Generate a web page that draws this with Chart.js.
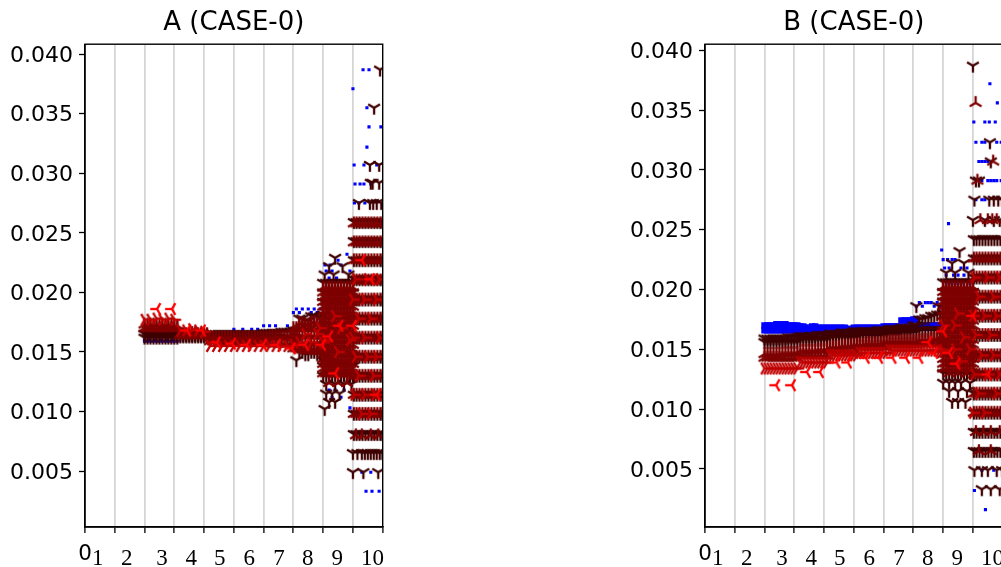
<!DOCTYPE html>
<html>
<head>
<meta charset="utf-8">
<script src="https://cdn.jsdelivr.net/npm/chart.js@4"></script>
<style>
html, body { margin: 0; background: #fff; overflow: hidden; width: 1001px; height: 567px; }
canvas { position: absolute; top: 0; }
#chart_a { left: 0; }
#chart_b { left: 620px; }
</style>
</head>
<body>
<canvas id="chart_a" width="500" height="567"></canvas>
<canvas id="chart_b" width="500" height="567"></canvas>
<script>
const tickLabels = ['1', '2', '3', '4', '5', '6', '7', '8', '9', '10'];
const tickLabelPos = [0.43, 1.40, 2.59, 3.57, 4.53, 5.52, 6.52, 7.48, 8.47, 9.66];

// x of the columns in the slow part of the cloud
const xCore = [2.0,2.2,2.4,2.6,2.8,3.0,3.2,3.4,3.6,3.8,4.0,4.2,4.4,4.6,4.8,5.0,5.2,5.4,5.6,5.8,6.0,6.2,6.4,6.6,6.8,7.0,7.2,7.4,7.6,7.8,8.0];
const xCoreMid = [2.1,2.3,2.5,2.7,2.9,3.1,3.3,3.5,3.7,3.9,4.1,4.3,4.5,4.7,4.9,5.1,5.3,5.5,5.7,5.9,6.1,6.3,6.5,6.7,6.9,7.1,7.3,7.5,7.7,7.9,8.0];
const xStep7 = [7.0,7.1,7.2,7.3,7.4,7.5,7.6,7.7,7.8,7.9,8.0];
const xBlob = [8.0,8.1,8.2,8.3,8.4,8.5,8.6,8.7,8.8,8.9,9.0];
const xDense = [9.03,9.12,9.22,9.32,9.42,9.52,9.62,9.72,9.82,9.92,9.99];

// panel A, one y per xCore entry
const aDarkHigh = [.0165,.0165,.0165,.0165,.0165,.0165,.0164,.0164,.0164,.0164,.0164,.0165,.0165,.0165,.0165,.0165,.0165,.0165,.0165,.0165,.0166,.0166,.0166,.0167,.0167,.0168,.0178,.0176,.0180,.0179,.0181];
const aDarkLow = [.0162,.0162,.0162,.0162,.0162,.0162,.0163,.0163,.0163,.0163,.0163,.0163,.0163,.0163,.0163,.0162,.0162,.0162,.0162,.0162,.0162,.0162,.0162,.0161,.0161,.0158,.0150,.0148,.0150,.0148,.0149];
const aMaroonHigh = [.0173,.0173,.0173,.0173,.0173,.0172,.0165,.0165,.0166,.0165,.0165,.0162,.0162,.0162,.0162,.0162,.0162,.0162,.0162,.0162,.0162,.0163,.0163,.0163,.0163,.0166,.0174,.0173,.0175,.0174,.0176];
const aMaroonLow = [.0170,.0170,.0170,.0170,.0170,.0170,.0164,.0164,.0164,.0164,.0164,.0159,.0159,.0159,.0159,.0159,.0158,.0158,.0158,.0158,.0158,.0157,.0157,.0157,.0157,.0156,.0152,.0151,.0152,.0151,.0151];
const aMedValues = [.0177,.0177,.0178,.0177,.0178,.0177,.0168,.0168,.0169,.0168,.0167,.0155,.0155,.0155,.0155,.0155,.0155,.0155,.0155,.0155,.0155,.0155,.0155,.0155,.0155,.0156,.0158,.0165,.0158,.0165,.0158];

// panel A rows, [y, [x, ...]]
const aBlueRows = [
  [.0387,[9.34,9.54]],[.0371,[9.0]],[.0355,[9.47]],[.0339,[9.54,9.94]],[.0322,[9.47]],[.0307,[9.04,9.37,9.8]],[.0291,[9.07,9.24,9.37,9.6]],[.0275,[9.05,9.2,9.4]],
  [.0232,[8.8]],[.0227,[8.5]],[.0223,[8.06,8.23,8.6]],[.0218,[8.1,8.3,8.9]],[.0212,[8.2,8.45]],
  [.0186,[7.1,7.3,7.5,7.7,7.9]],[.0183,[7.0,7.2,7.6,7.8]],[.0172,[6.0,6.2,6.4,6.8]],[.0169,[5.0,5.3,5.6,5.8]],
  [.0159,[2.0,2.1,2.2,2.3,2.4,2.5,2.6,2.7,2.8,2.9,3.0,3.1]],[.0160,[2.0,2.15,2.35,2.55,2.75,2.95]],
  [.0118,[8.2,8.4,8.7]],[.0112,[8.3,8.6]],[.0103,[8.9]],[.0049,[9.3,9.6]],[.0033,[9.44,9.64,9.88]]
];
const aDarkRows = [
  [.0387,[9.91]],[.0355,[9.71]],[.0307,[9.57,9.88]],[.0292,[9.6,9.66,9.88]],[.0275,[9.2,9.57,9.68,9.8,9.95]],[.0259,xDense],[.0243,xDense],[.0227,xDense],[.0211,xDense],[.0194,xDense],[.0178,xDense],[.0162,xDense],[.0146,xDense],[.0130,xDense],[.0114,xDense],[.0098,xDense],
  [.0229,[8.4]],[.0222,[8.2,8.65]],[.0215,[8.05,8.35,8.85]],[.0208,xBlob],[.0200,xBlob],[.0192,xBlob],
  [.0143,[7.1,8.0,8.2]],[.0138,xBlob],[.0130,xBlob],[.0123,[8.1,8.4,8.7,8.95]],[.0115,[8.1,8.3,8.55]],[.0108,[8.2,8.4]],[.0102,[8.05]],
  [.0081,xDense],[.0065,[9.0,9.15,9.3,9.4,9.5,9.6,9.7,9.8,9.9,9.99]],[.0049,[9.0,9.35,9.85]]
];
const aMaroonRows = [
  [.0258,xDense],[.0242,xDense],[.0227,xDense],[.0210,xDense],[.0194,xDense],[.0178,xDense],[.0162,xDense],[.0146,xDense],[.0130,xDense],[.0114,xDense],[.0098,xDense],[.0080,[9.1,9.3,9.6,9.85]],
  [.0204,xBlob],[.0200,xBlob],[.0196,xBlob],[.0192,xBlob],[.0188,xBlob],[.0184,xBlob],[.0180,xBlob],[.0176,xBlob],[.0172,xBlob],[.0168,xBlob],[.0164,xBlob],[.0160,xBlob],[.0156,xBlob],[.0152,xBlob],[.0148,xBlob],[.0144,xBlob],[.0140,xBlob],[.0136,xBlob],[.0132,xBlob],[.0124,[8.2,8.5,8.8]],
  [.0170,xStep7],[.0164,xStep7],[.0158,xStep7],[.0153,xStep7]
];
const aMedRows = [
  [.0211,[9.1,9.5,9.9]],[.0194,[9.0,9.4,9.8]],[.0178,[9.2,9.6]],[.0162,[9.0,9.4,9.9]],[.0146,[9.1,9.5,9.8]],[.0130,[9.2,9.7]],[.0114,[9.05,9.4,9.75]],[.0098,[9.3,9.6]],
  [.0180,[8.4]],[.0170,[7.9,8.6]],[.0160,[8.1,8.9]],[.0150,[8.5]]
];
const aBrightRows = [
  [.0186,[2.42,2.92]],[.0168,[3.43,3.93]],[.0158,[4.43]],[.0157,[4.94]],[.0156,[5.44,5.98,6.45,7.39,7.96]],[.0153,[6.95]],
  [.0172,[8.55,9.0]],[.0163,[8.2]],[.0132,[8.4]],[.0227,[9.3]],[.0211,[9.6]],[.0114,[9.8]]
];

// panel B, one y per xCore entry
const bBlueHigh = [.0170,.0170,.0171,.0171,.0170,.0170,.0169,.0168,.0169,.0168,.0168,.0168,.0168,.0168,.0167,.0168,.0168,.0168,.0168,.0168,.0169,.0169,.0169,.0174,.0174,.0175,.0170,.0170,.0170,.0170,.0170];
const bBlueLow = [.0166,.0166,.0166,.0166,.0166,.0166,.0165,.0165,.0165,.0165,.0164,.0164,.0164,.0164,.0164,.0164,.0164,.0164,.0164,.0164,.0165,.0165,.0165,.0168,.0168,.0168,.0168,.0168,.0168,.0168,.0168];
const bDarkHigh = [.0159,.0159,.0159,.0159,.0160,.0160,.0161,.0161,.0161,.0162,.0162,.0163,.0163,.0164,.0164,.0165,.0165,.0165,.0165,.0166,.0166,.0167,.0167,.0168,.0168,.0170,.0175,.0176,.0178,.0179,.0180];
const bDarkLow = [.0156,.0156,.0156,.0156,.0156,.0156,.0158,.0158,.0158,.0158,.0158,.0160,.0160,.0160,.0160,.0160,.0162,.0162,.0162,.0162,.0162,.0164,.0164,.0164,.0164,.0164,.0166,.0166,.0166,.0166,.0166];
const bMaroonHigh = [.0146,.0146,.0146,.0147,.0147,.0147,.0149,.0149,.0149,.0150,.0150,.0152,.0152,.0153,.0153,.0154,.0154,.0155,.0155,.0155,.0156,.0157,.0157,.0157,.0157,.0157,.0158,.0158,.0159,.0159,.0160];
const bMaroonLow = [.0143,.0143,.0143,.0143,.0143,.0143,.0145,.0145,.0145,.0145,.0145,.0149,.0149,.0149,.0149,.0149,.0152,.0152,.0152,.0152,.0152,.0154,.0154,.0154,.0154,.0154,.0155,.0155,.0155,.0155,.0155];
const bMedValues = [.0134,.0134,.0134,.0134,.0134,.0134,.0139,.0139,.0139,.0139,.0139,.0145,.0145,.0145,.0145,.0145,.0147,.0147,.0147,.0147,.0147,.0149,.0149,.0149,.0149,.0149,.0149,.0149,.0149,.0149,.0149];

// panel B rows, [y, [x, ...]]
const bBlueRows = [
  [.0372,[9.57]],[.0356,[9.82]],[.0340,[9.03,9.4,9.55,9.75]],[.0323,[9.1,9.3,9.4,9.8,9.95]],[.0307,[9.2,9.3,9.4,9.5]],[.0291,[9.3,9.5,9.6,9.7,9.8,9.95]],[.0275,[9.1,9.3,9.4]],
  [.0255,[8.18]],[.0233,[7.95]],[.0225,[8.0,8.15,8.3,8.4]],[.0218,[8.05,8.2,8.6,8.8]],[.0212,[8.1,8.35,8.5,8.7]],[.0205,[8.2,8.4,8.6,8.9]],
  [.0189,[7.2,7.4,7.5,7.6,7.8]],[.0186,[7.1,7.3,7.7,7.9]],[.0032,[9.05]],[.0016,[9.42]],[.0049,[9.3,9.7]]
];
const bDarkRows = [
  [.0387,[9.0]],[.0323,[9.57]],[.0307,[9.6]],[.0291,[9.1,9.2]],[.0275,[9.05,9.55,9.7,9.85,9.98]],[.0258,[9.0,9.4,9.7,9.9]],[.0242,xDense],[.0226,xDense],[.0210,xDense],[.0194,xDense],[.0178,xDense],[.0162,xDense],[.0145,xDense],[.0129,xDense],[.0113,xDense],
  [.0186,[7.1,7.85]],[.0232,[8.55]],[.0222,[8.3,8.7]],[.0214,[8.1,8.4,8.85]],[.0206,xBlob],[.0198,xBlob],[.0190,xBlob],
  [.0130,xBlob],[.0122,[8.0,8.2,8.4,8.6,8.9]],[.0115,[8.2,8.5,8.8]],[.0106,[8.3,8.5,8.75]],
  [.0097,xDense],[.0081,xDense],[.0065,xDense],[.0049,[9.05,9.3,9.5,9.8,9.98]],[.0033,[9.3,9.6,9.9]]
];
const bMaroonRows = [
  [.0356,[9.09]],[.0307,[9.68]],[.0291,[9.15]],[.0258,[9.25,9.5,9.65,9.8]],[.0226,xDense],[.0210,xDense],[.0194,xDense],[.0178,xDense],[.0162,xDense],[.0145,xDense],[.0129,xDense],[.0113,xDense],[.0097,xDense],[.0081,[9.1,9.35,9.6,9.9]],[.0065,[9.2,9.6]],
  [.0202,xBlob],[.0198,xBlob],[.0194,xBlob],[.0190,xBlob],[.0186,xBlob],[.0182,xBlob],[.0178,xBlob],[.0174,xBlob],[.0170,xBlob],[.0166,xBlob],[.0162,xBlob],[.0158,xBlob],[.0154,xBlob],[.0150,xBlob],[.0146,xBlob],[.0142,xBlob],[.0138,xBlob],[.0134,xBlob],[.0130,[8.2,8.5,8.8]]
];
const bMedRows = [
  [.0210,[9.05,9.5,9.9]],[.0194,[9.2,9.7]],[.0178,[9.0,9.4,9.8]],[.0162,[9.1,9.6]],[.0145,[9.3,9.7]],[.0129,[9.05,9.5,9.9]],[.0113,[9.2,9.8]],[.0097,[9.0,9.4]],
  [.0180,[8.5]],[.0170,[8.0,8.4]],[.0160,[8.7]],[.0150,[8.4,8.9]],[.0140,[8.6]]
];
const bBrightRows = [
  [.0120,[2.39,2.92]],[.0131,[3.42,3.86]],[.0139,[4.42,4.8]],[.0143,[5.4,5.85,6.3,6.75,7.2]],[.0147,[7.7,8.2]],[.0138,[8.45]],[.0156,[7.5]],[.0165,[8.0]],[.0178,[9.0]],[.0129,[9.5]]
];

function rowPoints(rows) {
    return rows.flatMap(row => row[1].map(x => ({ x: x, y: row[0] })));
}

function corePoints(ys) {
    return ys.flatMap((y, i) => [{ x: xCore[i], y: y }, { x: xCoreMid[i], y: y }]);
}

function sparsePoints(ys) {
    return ys.map((y, i) => ({ x: xCore[i], y: y }));
}

// the tri markers, one arm along the angle and two more at 120 degrees
function triMarker(color, angle) {
    const c = document.createElement('canvas');
    c.width = 18;
    c.height = 18;
    const ctx = c.getContext('2d');
    ctx.translate(9, 9);
    ctx.rotate(angle * Math.PI / 180);
    ctx.strokeStyle = color;
    ctx.lineWidth = 2.3;
    [0, 120, 240].forEach(a => {
        const r = a * Math.PI / 180;
        ctx.beginPath();
        ctx.moveTo(0, 0);
        ctx.lineTo(Math.sin(r) * 6.8, Math.cos(r) * 6.8);
        ctx.stroke();
    });
    return c;
}

const markerDark = triMarker('#3f0000', 0);
const markerMaroon = triMarker('#7f0000', 180);
const markerMed = triMarker('#bf0000', 270);
const markerBright = triMarker('#ff0000', 90);

function tri(points, marker) {
    return { data: points, pointStyle: marker, pointRadius: 3, showLine: false };
}

function blue(points, radius) {
    return { data: points, pointStyle: 'rect', pointRadius: radius, pointBackgroundColor: '#0000ff', pointBorderWidth: 0, showLine: false };
}

function drawPanel(id, title, yMin, yMax, datasets) {
    return new Chart(document.getElementById(id), {
        type: 'scatter',
        data: { datasets: datasets },
        plugins: [{
            id: 'spines',
            afterDatasetsDraw(chart) {
                const a = chart.chartArea;
                const ctx = chart.ctx;
                ctx.save();
                ctx.strokeStyle = '#000';
                ctx.lineWidth = 1.4;
                ctx.strokeRect(a.left, a.top, a.right - a.left, a.bottom - a.top);
                ctx.restore();
            }
        }],
        options: {
            responsive: false,
            animation: false,
            events: [],
            layout: { padding: { right: 117.3 } },
            plugins: {
                legend: { display: false },
                tooltip: { enabled: false },
                title: {
                    display: true,
                    text: title,
                    fullSize: false,
                    color: '#000',
                    font: { family: 'DejaVu Sans', size: 26, weight: 'normal' },
                    padding: { top: 8, bottom: 5 }
                }
            },
            scales: {
                x: {
                    type: 'linear',
                    position: 'bottom',
                    min: 0,
                    max: 10,
                    afterFit: s => { s.height = 17; },
                    border: { color: '#000', width: 1.4 },
                    grid: {
                        color: c => (c.tick && c.tick.value > 0 && c.tick.value < 10) ? '#d6d6d6' : 'rgba(0,0,0,0)',
                        lineWidth: 1.8,
                        tickColor: '#000',
                        tickWidth: 1.3,
                        tickLength: 6
                    },
                    ticks: {
                        stepSize: 1,
                        maxRotation: 0,
                        autoSkip: false,
                        mirror: true,
                        padding: -40,
                        color: '#000',
                        font: { family: 'DejaVu Sans', size: 21.5 },
                        callback: v => (v === 0 ? '0' : '')
                    }
                },
                xLabels: {
                    type: 'linear',
                    position: 'bottom',
                    min: 0,
                    max: 10,
                    afterFit: s => { s.height = 23; },
                    afterBuildTicks: s => { s.ticks = tickLabelPos.map(v => ({ value: v })); },
                    border: { display: false },
                    grid: { display: false, drawTicks: false },
                    ticks: {
                        maxRotation: 0,
                        autoSkip: false,
                        padding: 1,
                        color: '#000',
                        font: { family: 'Liberation Serif', size: 23 },
                        callback: v => tickLabels[tickLabelPos.indexOf(v)]
                    }
                },
                y: {
                    min: yMin,
                    max: yMax,
                    afterFit: s => { s.width = 85; },
                    border: { color: '#000', width: 1.4 },
                    grid: { drawOnChartArea: false, tickColor: '#000', tickWidth: 1.3, tickLength: 6 },
                    ticks: {
                        stepSize: 0.005,
                        includeBounds: false,
                        labelOffset: 2,
                        padding: 6,
                        color: '#000',
                        font: { family: 'DejaVu Sans', size: 22 },
                        callback: v => v.toFixed(3)
                    }
                }
            }
        }
    });
}

// first dataset ends up on top
(function chart_a()
{
    drawPanel('chart_a', 'A (CASE-0)', 0.0003, 0.04084, [
        tri(rowPoints(aBrightRows), markerBright),
        tri(rowPoints(aMedRows).concat(sparsePoints(aMedValues)), markerMed),
        tri(rowPoints(aMaroonRows).concat(corePoints(aMaroonLow), corePoints(aMaroonHigh)), markerMaroon),
        tri(rowPoints(aDarkRows).concat(corePoints(aDarkLow), corePoints(aDarkHigh)), markerDark),
        blue(rowPoints(aBlueRows), 2.2)
    ]);
})();

(function chart_b()
{
    drawPanel('chart_b', 'B (CASE-0)', 0.00015, 0.0405, [
        tri(rowPoints(bBrightRows), markerBright),
        tri(rowPoints(bMedRows).concat(corePoints(bMedValues)), markerMed),
        tri(rowPoints(bMaroonRows).concat(corePoints(bMaroonLow), corePoints(bMaroonHigh)), markerMaroon),
        tri(rowPoints(bDarkRows).concat(corePoints(bDarkLow), corePoints(bDarkHigh)), markerDark),
        blue(rowPoints(bBlueRows), 2.2),
        blue(corePoints(bBlueHigh).concat(corePoints(bBlueLow)), 4.6)
    ]);
})();
</script>
</body>
</html>
